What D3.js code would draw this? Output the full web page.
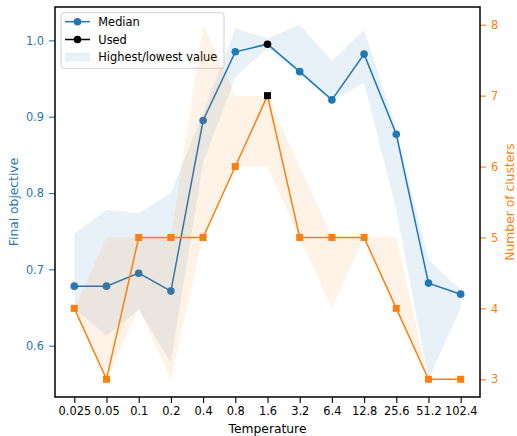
<!DOCTYPE html>
<html>
<head>
<meta charset="utf-8">
<script src="https://cdn.jsdelivr.net/npm/d3@7"></script>
<style>
  html, body { margin: 0; padding: 0; background: #fff; }
  svg { display: block; font-family: "DejaVu Sans", sans-serif; }
</style>
</head>
<body>
<svg id="chart" width="517" height="436"></svg>
<script>
// ---- data ----
const categories = ["0.025","0.05","0.1","0.2","0.4","0.8","1.6","3.2","6.4","12.8","25.6","51.2","102.4"];
const medianObjective  = [0.678, 0.678, 0.695, 0.6715, 0.895, 0.985, 0.995, 0.959, 0.922, 0.982, 0.877, 0.682, 0.6675];
const highestObjective = [0.7465, 0.778, 0.7736, 0.800, 0.905, 1.016, 1.0026, 1.0205, 0.973, 1.0135, 0.885, 0.7126, 0.673];
const lowestObjective  = [0.649, 0.613, 0.647, 0.578, 0.840, 0.952, 0.990, 0.956, 0.921, 0.944, 0.778, 0.556, 0.649];
const medianClusters  = [4, 3, 5, 5, 5, 6, 7, 5, 5, 5, 4, 3, 3];
const highestClusters = [4, 5, 5, 5, 8, 7, 7, 6, 5, 5, 5, 3, 3];
const lowestClusters  = [4, 3, 4, 3, 5, 6, 6, 5, 4, 5, 4, 3, 3];
const usedIndex = 6;
const leftTicks = [0.6, 0.7, 0.8, 0.9, 1.0];
const rightTicks = [3, 4, 5, 6, 7, 8];
const legendLabels = ["Median", "Used", "Highest/lowest value"];

// ---- layout ----
const blue = "#1f77b4", orange = "#ff7f0e";
const L = 55, R = 480, T = 7, B = 397;
const svg = d3.select("#chart");

function padded(lo, hi) { const m = (hi - lo) * 0.05; return [lo - m, hi + m]; }

const x = d3.scalePoint().domain(categories).range([L, R]).padding(0.6);
const yL = d3.scaleLinear().domain(padded(d3.min(lowestObjective), d3.max(highestObjective))).range([B, T]);
const yR = d3.scaleLinear().domain(padded(d3.min(lowestClusters), d3.max(highestClusters))).range([B, T]);

const idx = d3.range(categories.length);

// clip
svg.append("defs").append("clipPath").attr("id", "clip")
  .append("rect").attr("x", L).attr("y", T).attr("width", R - L).attr("height", B - T);

const g1 = svg.append("g").attr("clip-path", "url(#clip)");

// blue band
g1.append("path")
  .attr("d", d3.area().x(i => x(categories[i])).y0(i => yL(lowestObjective[i])).y1(i => yL(highestObjective[i]))(idx))
  .attr("fill", blue).attr("fill-opacity", 0.1);
// blue line
g1.append("path")
  .attr("d", d3.line().x(i => x(categories[i])).y(i => yL(medianObjective[i]))(idx))
  .attr("fill", "none").attr("stroke", blue).attr("stroke-width", 1.5);
g1.selectAll("circle.med").data(idx).join("circle")
  .attr("cx", i => x(categories[i])).attr("cy", i => yL(medianObjective[i]))
  .attr("r", 3.8).attr("fill", i => i === usedIndex ? "#000" : blue);

// legend (belongs to left axes, drawn beneath right axes content)
const lg = svg.append("g");
lg.append("rect").attr("x", 61).attr("y", 12.7).attr("width", 163).attr("height", 55.6)
  .attr("rx", 3).attr("fill", "#fff").attr("fill-opacity", 0.8).attr("stroke", "#d0d0d0").attr("stroke-width", 1);
const rows = [21.7, 39.5, 57];
[blue, "#000"].forEach((c, k) => {
  lg.append("line").attr("x1", 65).attr("x2", 90).attr("y1", rows[k]).attr("y2", rows[k])
    .attr("stroke", c).attr("stroke-width", 1.5);
  lg.append("circle").attr("cx", 77.5).attr("cy", rows[k]).attr("r", 3.8).attr("fill", c);
});
lg.append("rect").attr("x", 65).attr("y", 52.5).attr("width", 25).attr("height", 9)
  .attr("fill", blue).attr("fill-opacity", 0.1);
legendLabels.forEach((t, k) => {
  lg.append("text").attr("x", 98.3).attr("y", rows[k]).attr("dy", "0.36em")
    .attr("font-size", 11.4).attr("fill", "#000").text(t);
});

const g2 = svg.append("g").attr("clip-path", "url(#clip)");
// orange band
g2.append("path")
  .attr("d", d3.area().x(i => x(categories[i])).y0(i => yR(lowestClusters[i])).y1(i => yR(highestClusters[i]))(idx))
  .attr("fill", orange).attr("fill-opacity", 0.1);
g2.append("path")
  .attr("d", d3.line().x(i => x(categories[i])).y(i => yR(medianClusters[i]))(idx))
  .attr("fill", "none").attr("stroke", orange).attr("stroke-width", 1.5);
const s = 7;
g2.selectAll("rect.med").data(idx).join("rect")
  .attr("x", i => x(categories[i]) - s / 2).attr("y", i => yR(medianClusters[i]) - s / 2)
  .attr("width", s).attr("height", s).attr("fill", i => i === usedIndex ? "#000" : orange);

// ---- axes ----
const fs = 11.4;
const axB = svg.append("g").attr("transform", `translate(0,${B})`)
  .call(d3.axisBottom(x).tickSize(6).tickPadding(4));
axB.select(".domain").remove();
axB.selectAll("line").attr("stroke", "#000").attr("stroke-width", 1.1);
axB.selectAll("text").attr("font-size", fs).attr("fill", "#000").attr("font-family", "DejaVu Sans");

const axL = svg.append("g").attr("transform", `translate(${L},0)`)
  .call(d3.axisLeft(yL).tickValues(leftTicks).tickFormat(d3.format(".1f")).tickSize(6).tickPadding(5));
axL.select(".domain").remove();
axL.selectAll("line").attr("stroke", blue).attr("stroke-width", 1.1);
axL.selectAll("text").attr("font-size", fs).attr("fill", blue).attr("font-family", "DejaVu Sans");

const axR = svg.append("g").attr("transform", `translate(${R},0)`)
  .call(d3.axisRight(yR).tickValues(rightTicks).tickFormat(d3.format("d")).tickSize(6).tickPadding(5));
axR.select(".domain").remove();
axR.selectAll("line").attr("stroke", orange).attr("stroke-width", 1.1);
axR.selectAll("text").attr("font-size", fs).attr("fill", orange).attr("font-family", "DejaVu Sans");

// spines
svg.append("rect").attr("x", L).attr("y", T).attr("width", R - L).attr("height", B - T)
  .attr("fill", "none").attr("stroke", "#000").attr("stroke-width", 1.5);

// axis labels
svg.append("text").attr("x", (L + R) / 2).attr("y", 433).attr("text-anchor", "middle")
  .attr("font-size", 12.3).attr("fill", "#000").text("Temperature");
svg.append("text").attr("transform", `translate(18,${(T + B) / 2}) rotate(-90)`).attr("text-anchor", "middle")
  .attr("font-size", 12.3).attr("fill", blue).text("Final objective");
svg.append("text").attr("transform", `translate(514,${(T + B) / 2}) rotate(-90)`).attr("text-anchor", "middle")
  .attr("font-size", 12.3).attr("fill", orange).text("Number of clusters");
</script>
</body>
</html>
